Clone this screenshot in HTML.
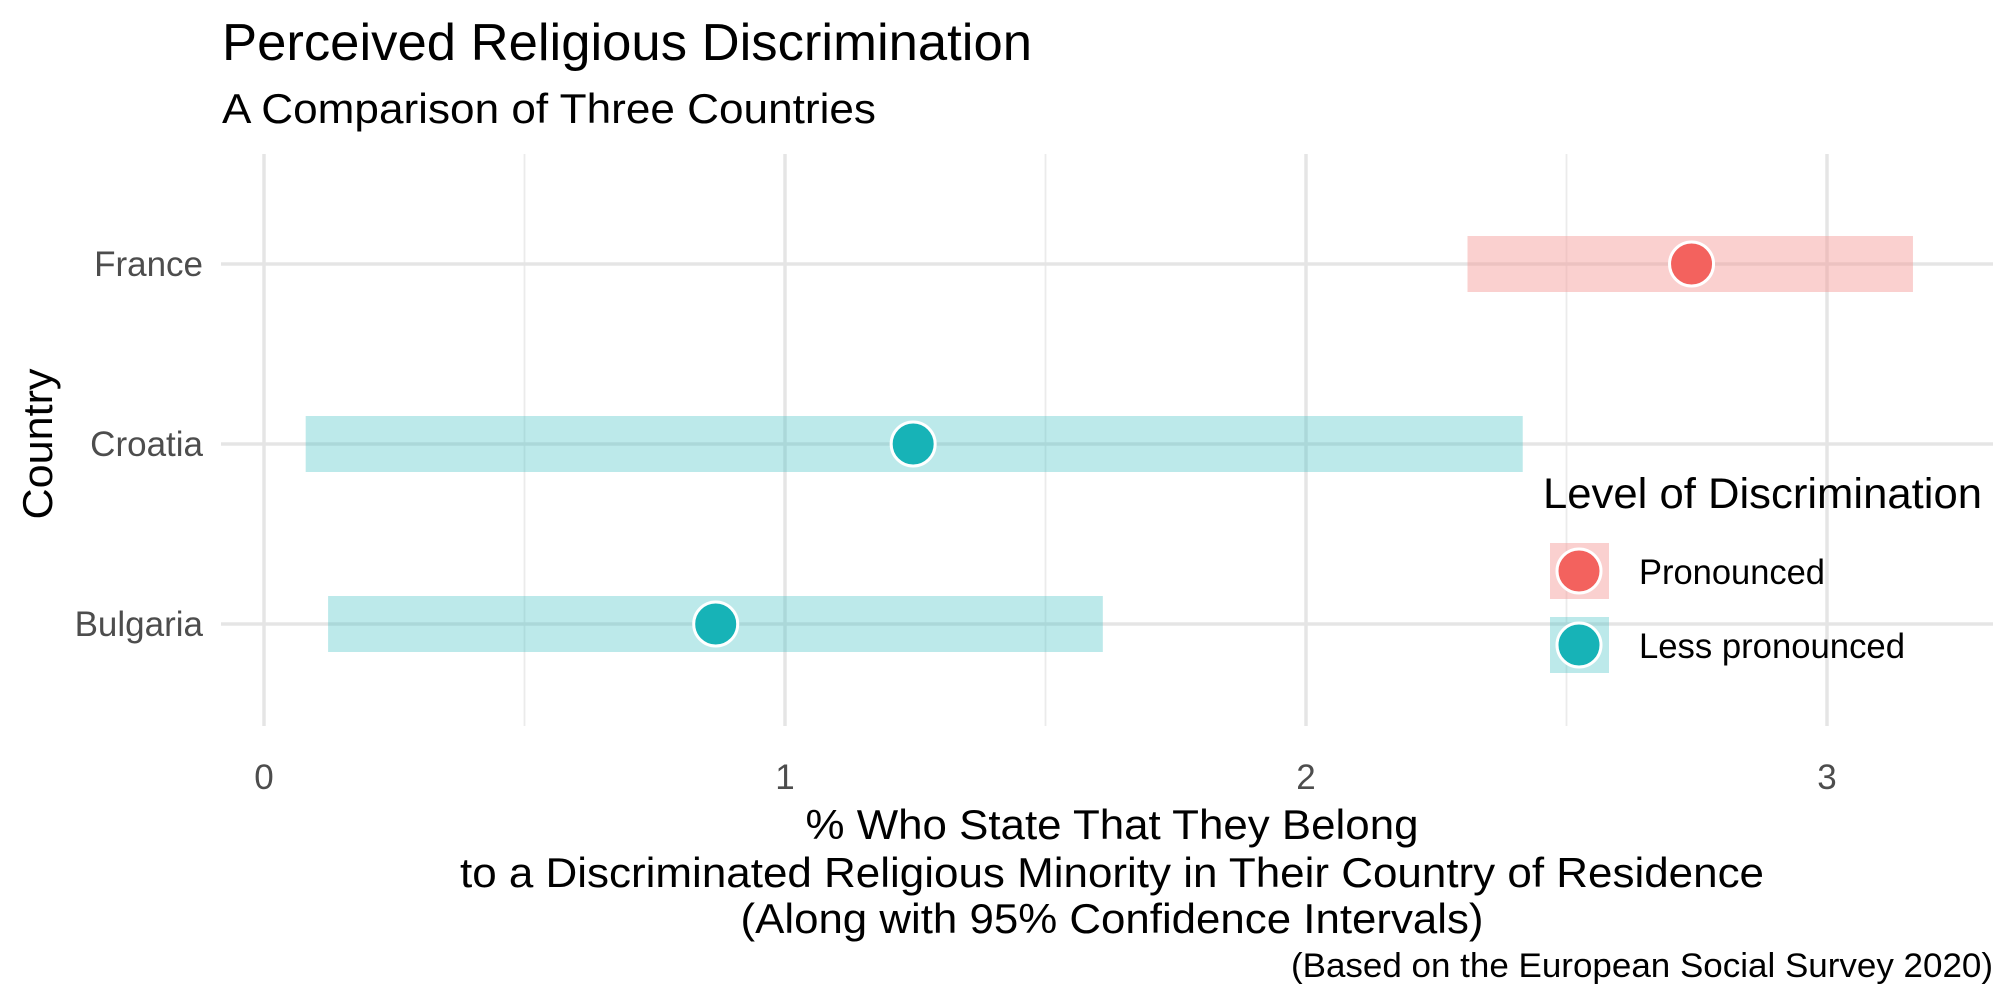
<!DOCTYPE html>
<html><head><meta charset="utf-8"><style>
html,body{margin:0;padding:0;background:#fff;}
svg{display:block;font-family:"Liberation Sans",Arial,sans-serif;}
</style></head><body>
<svg id="chart" width="2016" height="1008" viewBox="0 0 2016 1008">
<text x="222" y="60" font-size="52" fill="#000" textLength="810" lengthAdjust="spacingAndGlyphs">Perceived Religious Discrimination</text>
<text x="222" y="123" font-size="42" fill="#000" textLength="654" lengthAdjust="spacingAndGlyphs">A Comparison of Three Countries</text>
<g id="grid"></g>
<g id="marks"></g>
<g id="axes"></g>
<text x="1112" y="839" font-size="42" text-anchor="middle" textLength="613" lengthAdjust="spacingAndGlyphs">% Who State That They Belong</text>
<text x="1112" y="887" font-size="42" text-anchor="middle" textLength="1304" lengthAdjust="spacingAndGlyphs">to a Discriminated Religious Minority in Their Country of Residence</text>
<text x="1112" y="933" font-size="42" text-anchor="middle" textLength="743" lengthAdjust="spacingAndGlyphs">(Along with 95% Confidence Intervals)</text>
<text x="1993" y="977" font-size="34" text-anchor="end" textLength="702" lengthAdjust="spacingAndGlyphs">(Based on the European Social Survey 2020)</text>
<text transform="translate(52,444) rotate(-90)" font-size="42" text-anchor="middle" textLength="151" lengthAdjust="spacingAndGlyphs">Country</text>
<g id="legend">
<text x="1543" y="508" font-size="43" textLength="439" lengthAdjust="spacingAndGlyphs">Level of Discrimination</text>
</g>
</svg>
<script>
const countries = ["France","Croatia","Bulgaria"];
const estimates = [2.74, 1.246, 0.867];
const lowerCI = [2.31, 0.08, 0.123];
const upperCI = [3.165, 2.416, 1.61];
const groups = ["Pronounced","Less pronounced","Less pronounced"];
const xTicks = [0,1,2,3];
const xMinor = [0.5,1.5,2.5];
const legendLabels = ["Pronounced","Less pronounced"];

const NS="http://www.w3.org/2000/svg";
const X0=264, XU=521, PL=221, PR=1993, PT=154, PB=726;
const yTop=264, yStep=180;
const xs=v=>X0+v*XU;
const ys=i=>yTop+i*yStep;
const pointCol={"Pronounced":"#f3625e","Less pronounced":"#17b3b7"};
const bandCol={"Pronounced":"#f59c9a","Less pronounced":"#45c2c6"};
const bandOp={"Pronounced":0.48,"Less pronounced":0.36};
function mk(tag,attrs,parent){const e=document.createElementNS(NS,tag);for(const k in attrs)e.setAttribute(k,attrs[k]);parent.appendChild(e);return e;}
const grid=document.getElementById('grid'),marks=document.getElementById('marks'),axes=document.getElementById('axes'),legend=document.getElementById('legend');
xMinor.forEach(v=>{const l=mk('line',{x1:xs(v),x2:xs(v),y1:PT,y2:PB,stroke:'#ebebeb','stroke-width':1.8},grid);

});
xTicks.forEach(v=>{const l=mk('line',{x1:xs(v),x2:xs(v),y1:PT,y2:PB,stroke:'#e5e5e5','stroke-width':3.5},grid);


const t=mk('text',{x:xs(v),y:789,'font-size':35,'text-anchor':'middle',fill:'#4d4d4d'},axes);t.textContent=v;

});
countries.forEach((c,i)=>{const l=mk('line',{x1:PL,x2:PR,y1:ys(i),y2:ys(i),stroke:'#e5e5e5','stroke-width':3.5},grid);


const t=mk('text',{x:203,y:ys(i)+12,'font-size':35,'text-anchor':'end',fill:'#4d4d4d'},axes);t.textContent=c;

});
countries.forEach((c,i)=>{const g=groups[i];
const r=mk('rect',{x:xs(lowerCI[i]),y:ys(i)-28,width:xs(upperCI[i])-xs(lowerCI[i]),height:56,fill:bandCol[g],'fill-opacity':bandOp[g]},marks);


const p=mk('circle',{cx:xs(estimates[i]),cy:ys(i),r:22,fill:pointCol[g],stroke:'#fff','stroke-width':3},marks);

});
legendLabels.forEach((lab,i)=>{const y0=543+i*74;
const r=mk('rect',{x:1550,y:y0,width:59,height:56,fill:bandCol[lab],'fill-opacity':bandOp[lab]},legend);


const c=mk('circle',{cx:1579,cy:y0+28,r:22,fill:pointCol[lab],stroke:'#fff','stroke-width':3},legend);


const t=mk('text',{x:1639,y:y0+41,'font-size':35,fill:'#000',textLength:i?266:186,lengthAdjust:'spacingAndGlyphs'},legend);t.textContent=lab;

});
</script>
</body></html>
